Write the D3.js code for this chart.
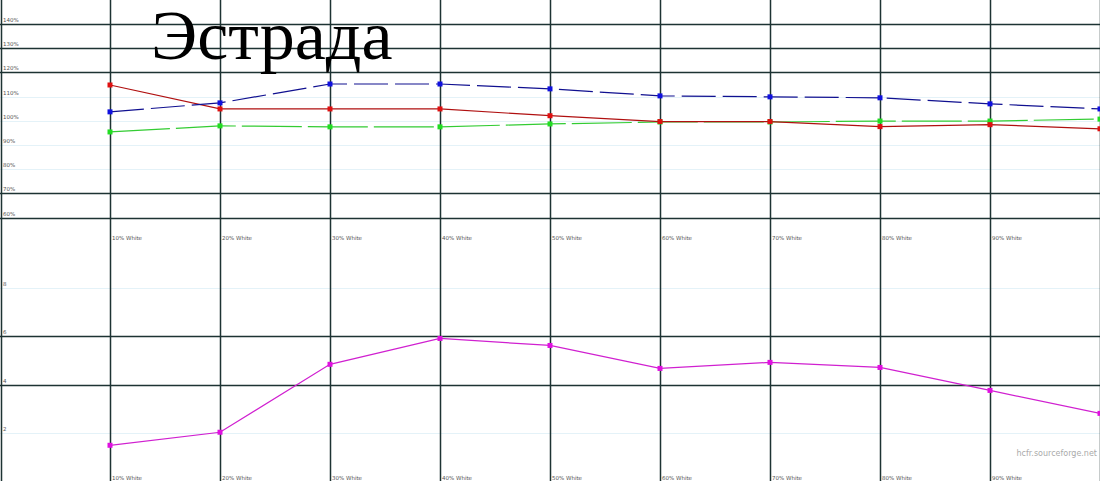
<!DOCTYPE html>
<html>
<head>
<meta charset="utf-8">
<script src="https://cdn.jsdelivr.net/npm/d3@7"></script>
<style>
	body { margin: 0; background: #fff; }
	svg { display: block; }
	.tiny { font-family: "DejaVu Sans", sans-serif; font-size: 5.5px; fill: #555; }
</style>
</head>
<body>
<div class="chart"></div>
<script>
// gray levels (% white)
var levels = [10, 20, 30, 40, 50, 60, 70, 80, 90, 100];
var levelLabels = levels.map(function ( d ) { return d + "% White"; });

// RGB levels, percent
var redLevels   = [114.8, 104.9, 104.9, 104.9, 102.1, 99.7, 99.7, 97.6, 98.4, 96.7];
var greenLevels = [95.4, 97.9, 97.5, 97.5, 98.7, 99.5, 99.5, 99.9, 99.9, 100.7];
var blueLevels  = [103.7, 107.4, 115.2, 115.2, 113.2, 110.3, 109.9, 109.5, 107.0, 104.9];

// delta E
var deltaE = [1.49, 2.03, 4.84, 5.91, 5.62, 4.67, 4.92, 4.71, 3.76, 2.81];

var pctTicks = [140, 130, 120, 110, 100, 90, 80, 70, 60];
var pctMajor = [140, 130, 120, 70, 60];
var dETicks = [8, 6, 4, 2];
var dEMajor = [6, 4];

var W = 1100, H = 481;

var svg = d3.select(".chart").append("svg")
	.attr("width", W)
	.attr("height", H);

var x = d3.scaleLinear().domain([0, 100]).range([0, W]);
var yTop = d3.scaleLinear().domain([60, 140]).range([217.6, 24]);
var yBot = d3.scaleLinear().domain([0, 10]).range([481.3, 239.6]);

var DARK = "#1d3333", FAINT = "#e4f2f8";

// horizontal grid
function hGrid( ticks, major, scale ) {
	svg.append("g").selectAll("line")
		.data(ticks)
		.enter()
		.append("line")
		.attr("x1", 0).attr("x2", W)
		.attr("y1", function ( d ) { return Math.round(scale(d)) + 0.5; })
		.attr("y2", function ( d ) { return Math.round(scale(d)) + 0.5; })
		.attr("stroke", function ( d ) { return major.indexOf(d) >= 0 ? DARK : FAINT; })
		.attr("stroke-width", function ( d ) { return major.indexOf(d) >= 0 ? 1.5 : 1; });
	svg.append("g").selectAll("text")
		.data(ticks)
		.enter()
		.append("text")
		.attr("class", "tiny")
		.attr("x", 3)
		.attr("y", function ( d ) { return scale(d) - 2; })
		.text(function ( d ) { return scale === yTop ? d + "%" : d; });
}
hGrid(pctTicks, pctMajor, yTop);
hGrid(dETicks, dEMajor, yBot);

// vertical grid
svg.append("line")
	.attr("x1", 1.5).attr("x2", 1.5).attr("y1", 0).attr("y2", H)
	.attr("stroke", DARK).attr("stroke-width", 1.5);
svg.append("g").selectAll("line")
	.data(levels)
	.enter()
	.append("line")
	.attr("x1", function ( d ) { return Math.round(x(d)) + 0.5; })
	.attr("x2", function ( d ) { return Math.round(x(d)) + 0.5; })
	.attr("y1", 0).attr("y2", H)
	.attr("stroke", DARK).attr("stroke-width", 1.5);

// x labels (the last level has no room for one)
[240, 480].forEach(function ( yy ) {
	svg.append("g").selectAll("text")
		.data(levels.slice(0, -1))
		.enter()
		.append("text")
		.attr("class", "tiny")
		.attr("x", function ( d ) { return x(d) + 2; })
		.attr("y", yy)
		.text(function ( d, i ) { return levelLabels[i]; });
});

function series( values, scale, lineColor, markColor, dash ) {
	var line = d3.line()
		.x(function ( d, i ) { return x(levels[i]); })
		.y(function ( d ) { return scale(d); });
	svg.append("path")
		.datum(values)
		.attr("d", line)
		.attr("fill", "none")
		.attr("stroke", lineColor)
		.attr("stroke-width", 1.2)
		.attr("stroke-dasharray", dash || null);
	svg.append("g").selectAll("rect")
		.data(values)
		.enter()
		.append("rect")
		.attr("x", function ( d, i ) { return x(levels[i]) - 2.5; })
		.attr("y", function ( d ) { return scale(d) - 2.5; })
		.attr("width", 5).attr("height", 5)
		.attr("fill", markColor);
}

series(greenLevels, yTop, "#33cc33", "#22dd22", "60,6");
series(redLevels, yTop, "#b01010", "#e01010", null);
series(blueLevels, yTop, "#101090", "#1010e0", "34,7");
series(deltaE, yBot, "#d020d0", "#e010e0", null);

// title
svg.append("text")
	.attr("x", 151)
	.attr("y", 59)
	.attr("font-family", "'Liberation Serif', 'Times New Roman', serif")
	.attr("font-size", 70)
	.attr("fill", "#000")
	.text("Эстрада");

// watermark
svg.append("text")
	.attr("x", 1097)
	.attr("y", 456)
	.attr("text-anchor", "end")
	.attr("font-family", "'DejaVu Sans', sans-serif")
	.attr("font-size", 8)
	.attr("fill", "#aaa")
	.text("hcfr.sourceforge.net");
</script>
</body>
</html>
